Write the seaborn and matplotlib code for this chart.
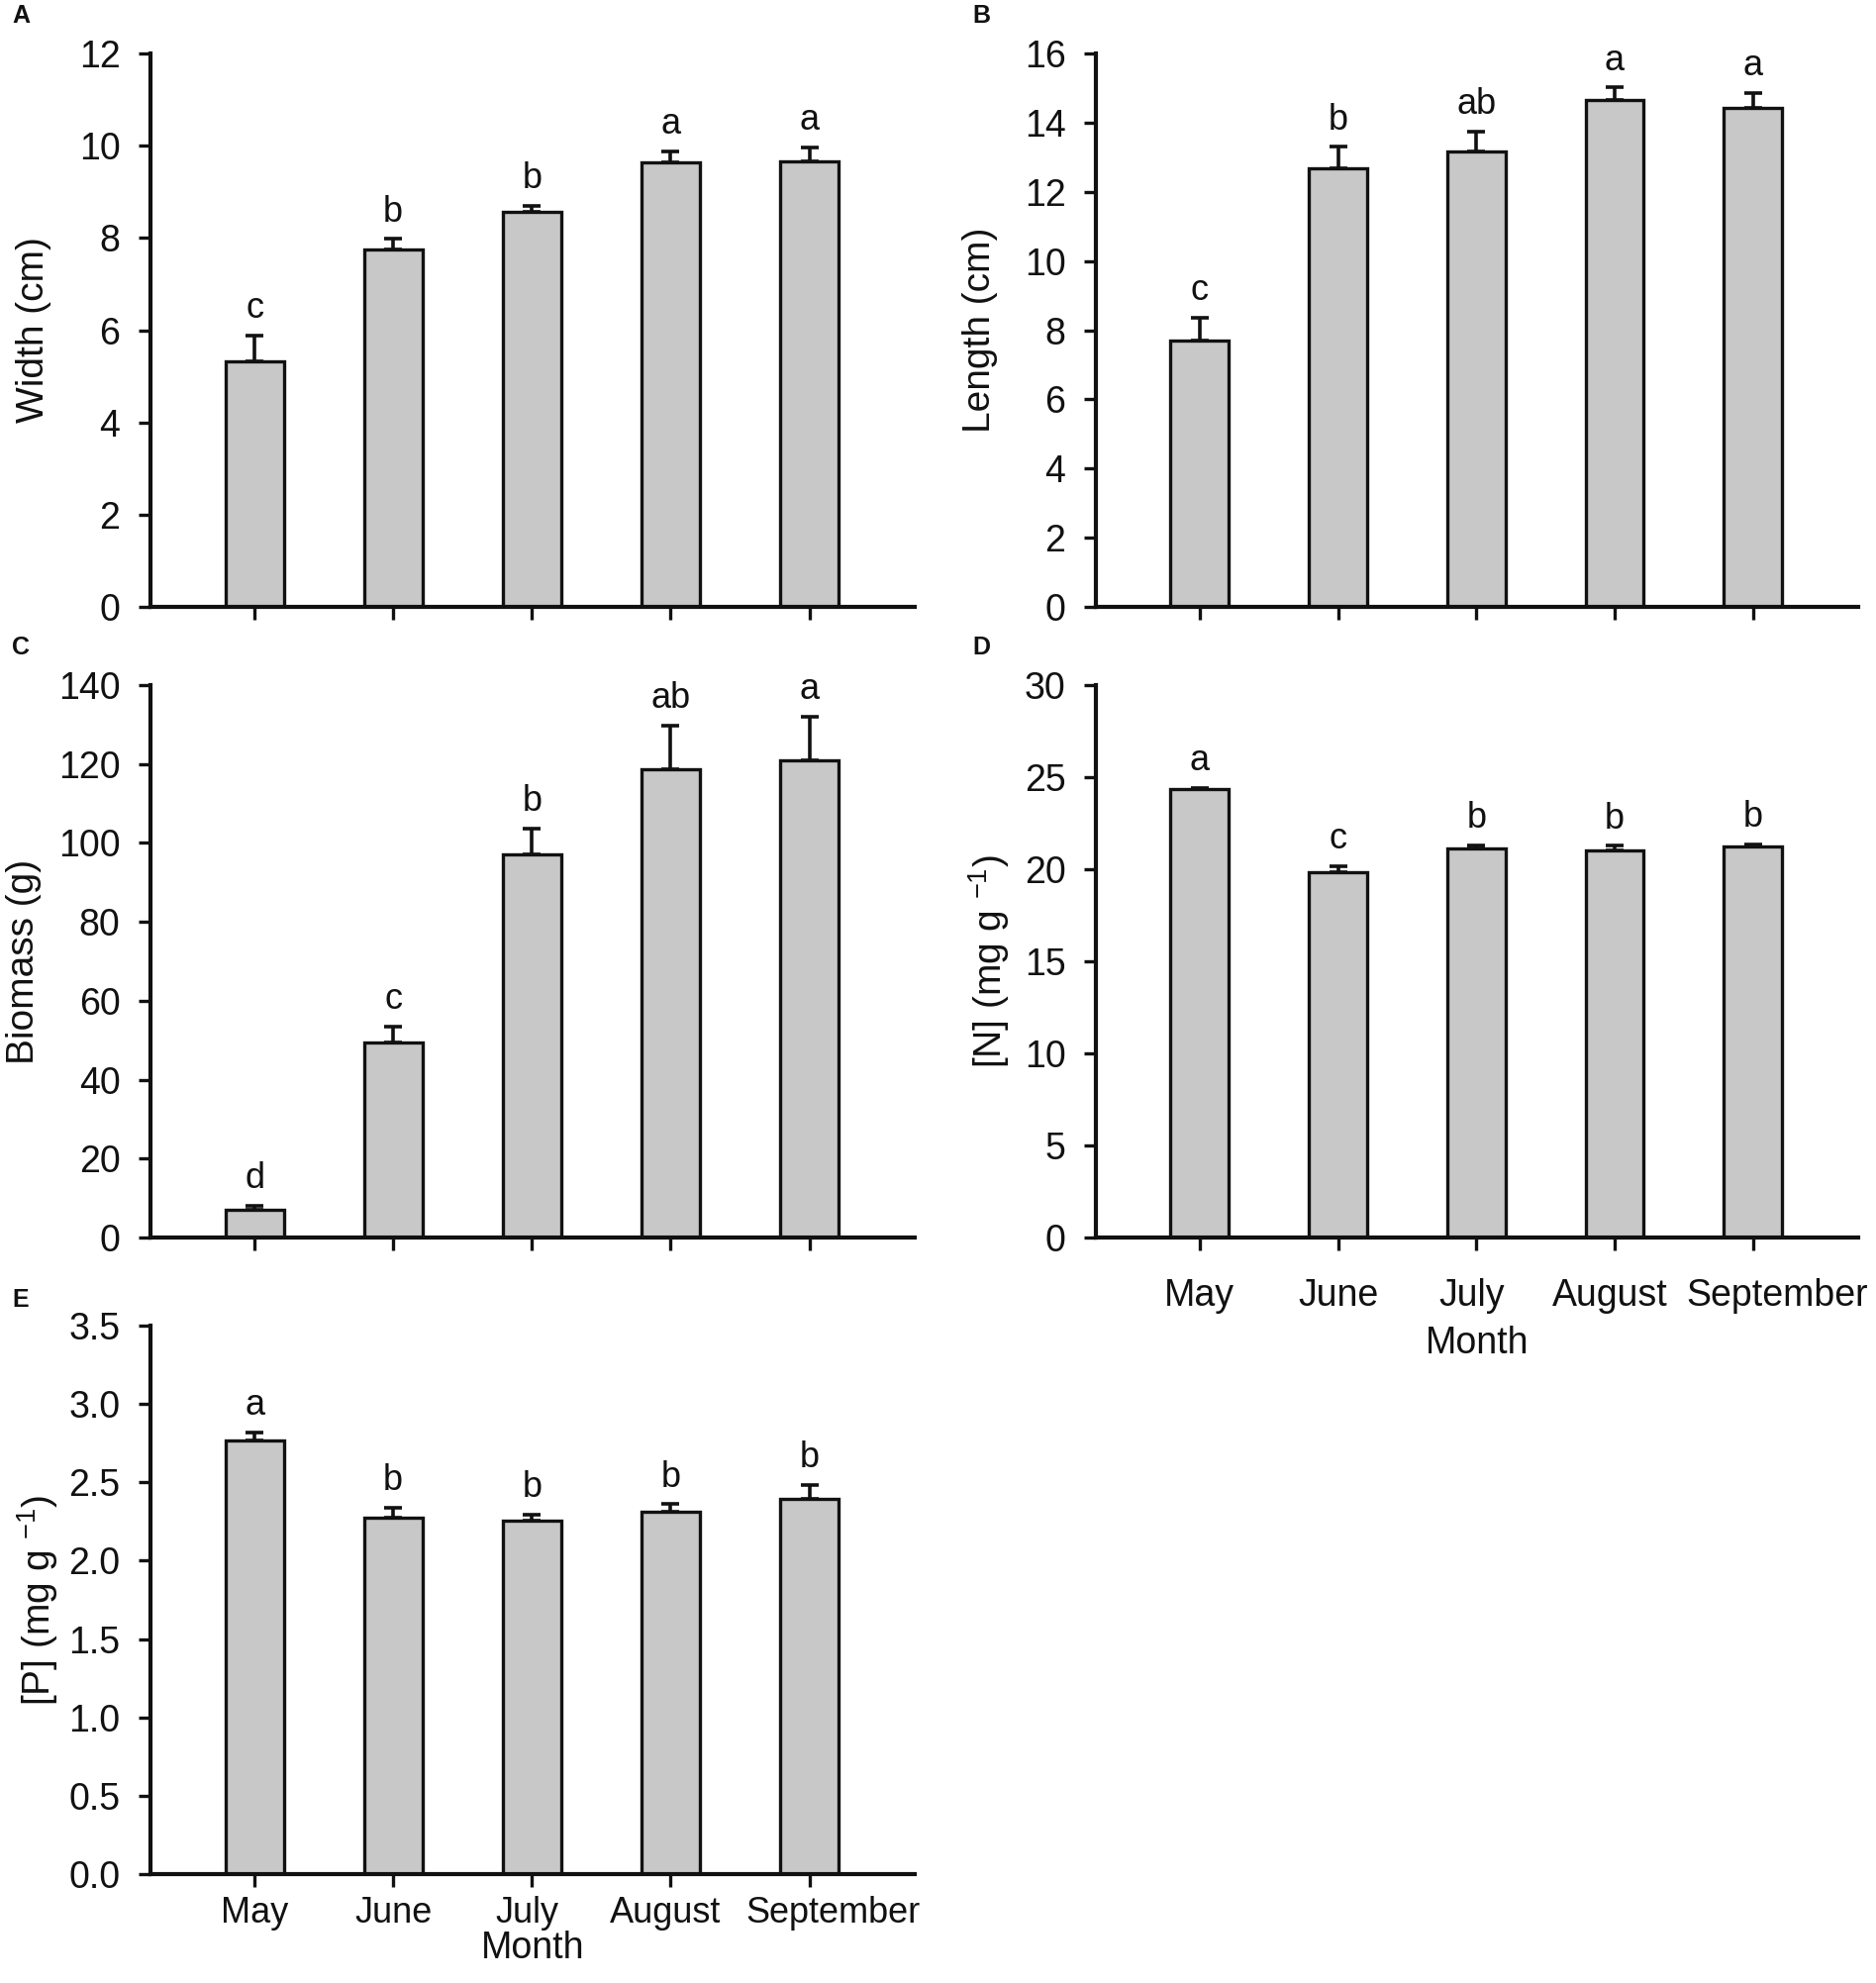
import matplotlib
matplotlib.use("Agg")
import matplotlib.pyplot as plt
import matplotlib.transforms as mtransforms
import numpy as np
import pandas as pd
import seaborn as sns

months = ["May", "June", "July", "August", "September"]

width_mean = [5.32, 7.74, 8.57, 9.63, 9.66]
width_se = [0.57, 0.24, 0.13, 0.25, 0.30]
width_letters = ["c", "b", "b", "a", "a"]

length_mean = [7.71, 12.68, 13.18, 14.66, 14.43]
length_se = [0.65, 0.62, 0.57, 0.36, 0.42]
length_letters = ["c", "b", "ab", "a", "a"]

biomass_mean = [7.0, 49.4, 97.1, 118.7, 121.0]
biomass_se = [1.0, 4.0, 6.5, 11.1, 11.0]
biomass_letters = ["d", "c", "b", "ab", "a"]

n_mean = [24.33, 19.82, 21.14, 21.01, 21.24]
n_se = [0.07, 0.33, 0.17, 0.26, 0.13]
n_letters = ["a", "c", "b", "b", "b"]

p_mean = [2.768, 2.275, 2.258, 2.312, 2.395]
p_se = [0.05, 0.065, 0.037, 0.048, 0.089]
p_letters = ["a", "b", "b", "b", "b"]

sns.set_style("ticks")
plt.rcParams["font.family"] = ["Liberation Sans", "DejaVu Sans"]
plt.rcParams["mathtext.default"] = "regular"

W, H = 1895, 2003
fig = plt.figure(figsize=(W / 100, H / 100), dpi=100)

def px_axes(left, top, right, bottom):
    return fig.add_axes([left / W, 1 - bottom / H, (right - left) / W, (bottom - top) / H])

panels = [
    # (tag, box in px, mean, se, letters, ylabel, ytop, step, fmt, label_x, xpad, xlabelpad, xsize)
    ("A", (152, 54, 924, 613), width_mean, width_se, width_letters, "Width (cm)", 12, 2, "%d", -0.13, None, None, 27),
    ("B", (1107, 54, 1877, 613), length_mean, length_se, length_letters, "Length (cm)", 16, 2, "%d", -0.128, None, None, 27),
    ("C", (152, 692, 924, 1250), biomass_mean, biomass_se, biomass_letters, "Biomass (g)", 140, 20, "%d", -0.142, None, None, 27),
    ("D", (1107, 692, 1877, 1250), n_mean, n_se, n_letters, "[N] (mg g $^{-1}$)", 30, 5, "%d", -0.11, 20, 9, 27),
    ("E", (152, 1339, 924, 1893), p_mean, p_se, p_letters, "[P] (mg g $^{-1}$)", 3.5, 0.5, "%.1f", -0.118, 6, 0, 26),
]

# small horizontal nudges (px) of month labels, as in the original
label_shift = [0, 0, -5, -5, 24]

for tag, box, mean, se, letters, ylab, ytop, step, fmt, lx, xpad, xlp, xsize in panels:
    ax = px_axes(*box)
    df = pd.DataFrame({"month": months, "value": mean, "se": se})
    sns.barplot(data=df, x="month", y="value", color="#c8c8c8", edgecolor="#111111",
                linewidth=2.4, width=0.42, errorbar=None, saturation=1, ax=ax, zorder=2)
    ax.errorbar(np.arange(len(months)), df["value"], yerr=[np.zeros(len(se)), df["se"]],
                fmt="none", ecolor="#111111", elinewidth=2.6, capsize=6.5, capthick=2.6, zorder=3)
    for i, (m, s, l) in enumerate(zip(mean, se, letters)):
        ax.annotate(l, xy=(i, m + s), xytext=(0, 7), textcoords="offset points",
                    ha="center", va="bottom", fontsize=26, color="#111111")

    ax.set_xlim(-0.75, 4.76)
    ax.set_ylim(0, ytop)
    ax.set_yticks(np.arange(0, ytop + step / 2, step))
    ax.yaxis.set_major_formatter(matplotlib.ticker.FormatStrFormatter(fmt))
    sns.despine(ax=ax)
    for sp in ["left", "bottom"]:
        ax.spines[sp].set_linewidth(3)
        ax.spines[sp].set_color("#111111")
    ax.tick_params(axis="y", direction="out", length=9, width=2.4, pad=13,
                   labelsize=27, colors="#111111")
    ax.tick_params(axis="x", direction="out", length=9.5, width=2.4, pad=xpad if xpad else 14,
                   labelsize=xsize, colors="#111111")
    ax.set_ylabel(ylab, fontsize=28, color="#111111")
    ax.yaxis.set_label_coords(lx, 0.5)
    if xpad is not None:
        ax.set_xlabel("Month", fontsize=27, color="#111111", labelpad=xlp)
        for lab, dx in zip(ax.get_xticklabels(), label_shift):
            off = mtransforms.ScaledTranslation(dx / 100, 0, fig.dpi_scale_trans)
            lab.set_transform(lab.get_transform() + off)
    else:
        ax.set_xlabel("")
        ax.tick_params(axis="x", labelbottom=False)

    tx = (box[0] - 140) / W if box[0] < 500 else (box[0] - 125) / W
    ty = 1 - (box[1] - 38) / H if tag != "E" else 1 - (box[1] - 26) / H
    fig.text(tx, ty, tag, fontsize=18, fontweight="bold", ha="left", va="center", color="#111111")

fig.savefig("out.png", dpi=100, facecolor="white")
